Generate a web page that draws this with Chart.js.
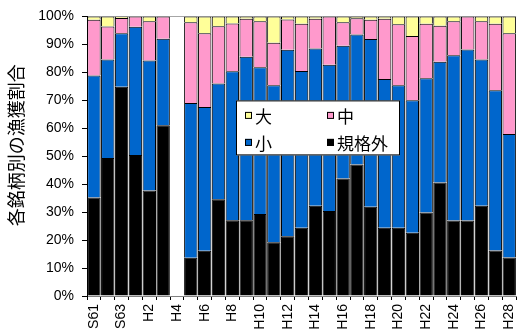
<!DOCTYPE html>
<html lang="ja">
<head>
<meta charset="utf-8">
<title>各銘柄別の漁獲割合</title>
<script src="https://cdn.jsdelivr.net/npm/chart.js@4/dist/chart.umd.min.js"></script>
<style>
  html, body { margin: 0; padding: 0; background: #fff; overflow: hidden; }
  #wrap { position: relative; width: 530px; height: 333px; }
</style>
</head>
<body>
<div id="wrap"><canvas id="c" width="530" height="333"></canvas></div>
<script>
// 年度（昭和61年～平成28年、平成4年は欠測）
const years = ['S61','S62','S63','H1','H2','H3','H4','H5','H6','H7','H8','H9','H10',
  'H11','H12','H13','H14','H15','H16','H17','H18','H19','H20','H21','H22','H23',
  'H24','H25','H26','H27','H28'];

// 銘柄別の漁獲割合（%）
const kikakugai = [35.2,49.4,74.8,50.4,37.7,61.1,null,13.7,16.2,34.6,27.1,27.1,29.3,
  19.2,21.4,24.4,32.3,30.4,42.0,47.0,31.9,24.4,24.4,22.6,29.9,40.6,27.0,27.0,32.3,16.3,13.8];
const sho = [43.7,35.2,19.2,45.9,46.5,30.9,null,55.3,51.4,41.4,53.3,58.5,52.5,
  56.2,66.7,56.1,56.2,52.3,47.5,46.5,60.0,53.2,51.0,47.4,48.0,43.2,59.1,61.2,52.3,57.3,44.1];
const chu = [19.9,11.8,5.4,3.7,14.1,8.0,null,28.9,26.4,20.5,17.1,13.6,16.5,
  15.2,10.8,16.9,10.7,17.3,8.4,5.8,6.9,21.6,21.8,23.0,19.5,12.9,12.2,11.8,13.7,23.8,36.1];
const dai = [1.2,3.6,0.6,0,1.7,0,null,2.1,6.0,3.5,2.5,0.8,1.7,
  9.4,1.1,2.6,0.8,0,2.1,0.7,1.2,0.8,2.8,7.0,2.6,3.3,1.7,0,1.7,2.6,6.0];

// 縦軸の目盛（%）
const yTicks = [0,10,20,30,40,50,60,70,80,90,100];

const axisTitle = '各銘柄別の漁獲割合';
const legendOrder = ['大','中','小','規格外'];

const latin = '"Liberation Sans", Arial, sans-serif';
const cjk = '"Noto Sans CJK JP", sans-serif';

// 縦軸タイトル（回転した文字）
const yTitlePlugin = {
  id: 'yTitle',
  afterDraw(chart) {
    const { ctx, chartArea } = chart;
    ctx.save();
    ctx.translate(16, (chartArea.top + chartArea.bottom) / 2 - 11);
    ctx.rotate(-Math.PI / 2);
    ctx.font = '18px ' + cjk;
    ctx.fillStyle = '#000';
    ctx.textAlign = 'center';
    ctx.textBaseline = 'middle';
    ctx.fillText(axisTitle, 0, 0);
    ctx.restore();
  }
};

// グラフ内に置く2列の凡例
const innerLegendPlugin = {
  id: 'innerLegend',
  afterDraw(chart) {
    const { ctx, chartArea } = chart;
    const x0 = chartArea.left + 149, y0 = chartArea.top + 84;
    const w = 164, h = 55;
    ctx.save();
    ctx.fillStyle = '#fff';
    ctx.fillRect(x0, y0, w, h);
    ctx.strokeStyle = '#000';
    ctx.lineWidth = 1;
    ctx.strokeRect(x0 + 0.5, y0 + 0.5, w - 1, h - 1);
    ctx.font = '17px ' + cjk;
    ctx.textBaseline = 'middle';
    ctx.textAlign = 'left';
    legendOrder.forEach((name, i) => {
      const ds = chart.data.datasets.find(d => d.label === name);
      const col = i % 2, row = Math.floor(i / 2);
      const sx = x0 + 9 + col * 82;
      const cy = y0 + 15 + row * 27;
      ctx.fillStyle = ds.backgroundColor;
      ctx.fillRect(sx, cy - 3.5, 7, 7);
      ctx.strokeStyle = '#000';
      ctx.strokeRect(sx + 0.5, cy - 3.5 + 0.5, 6, 6);
      ctx.fillStyle = '#000';
      ctx.fillText(name, sx + 10, cy + 1);
    });
    ctx.restore();
  }
};

const common = { borderColor: '#000', borderWidth: 1, barPercentage: 0.97, categoryPercentage: 1.0 };

new Chart(document.getElementById('c'), {
  type: 'bar',
  data: {
    labels: years,
    datasets: [
      Object.assign({ label: '規格外', data: kikakugai, backgroundColor: '#000000' }, common),
      Object.assign({ label: '小', data: sho, backgroundColor: '#0066CC' }, common),
      Object.assign({ label: '中', data: chu, backgroundColor: '#FF99CC' }, common),
      Object.assign({ label: '大', data: dai, backgroundColor: '#FFFF99' }, common)
    ]
  },
  options: {
    responsive: false,
    animation: false,
    layout: { padding: { top: 16, left: 0, right: 0, bottom: 0 } },
    plugins: { legend: { display: false }, tooltip: { enabled: false }, title: { display: false } },
    scales: {
      x: {
        stacked: true,
        offset: true,
        afterFit(scale) { scale.height = 37; },
        border: { color: '#808080', width: 1 },
        grid: { drawOnChartArea: false, offset: true, tickLength: 4, tickColor: '#000' },
        ticks: {
          autoSkip: false, maxRotation: 90, minRotation: 90, padding: 4,
          color: '#000', font: { family: latin, size: 14 },
          callback(value, index) { return index % 2 === 0 ? years[index] : ''; }
        }
      },
      y: {
        stacked: true,
        min: 0, max: 100,
        afterFit(scale) { scale.width = 87; },
        afterBuildTicks(scale) { scale.ticks = yTicks.map(v => ({ value: v })); },
        border: { color: '#000', width: 1 },
        grid: {
          color: ctx => (ctx.tick && ctx.tick.value === 100 ? '#a6a6a6' : 'rgba(0,0,0,0)'),
          tickColor: '#000', tickLength: 5, drawOnChartArea: true
        },
        ticks: {
          padding: 8, color: '#000', font: { family: latin, size: 14 },
          callback: v => v + '%'
        }
      }
    }
  },
  plugins: [yTitlePlugin, innerLegendPlugin]
});
</script>
</body>
</html>
